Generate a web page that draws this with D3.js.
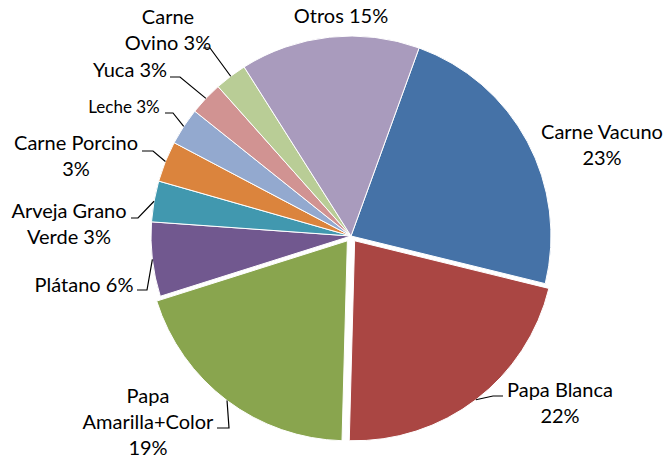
<!DOCTYPE html>
<html>
<head>
<meta charset="utf-8">
<script src="https://cdn.jsdelivr.net/npm/d3@7"></script>
<style>
  body { margin: 0; background: #fff; }
  svg { display: block; }
  text { font-family: Lato, "Open Sans", sans-serif; fill: #000; }
</style>
</head>
<body>
<div id="chart"></div>
<script>
const categories = ["Carne Vacuno", "Papa Blanca", "Papa Amarilla+Color", "Plátano", "Arveja Grano Verde",
    "Carne Porcino", "Leche", "Yuca", "Carne Ovino", "Otros"]
const values = [23.3, 21.6, 19.7, 6.0, 3.3, 3.3, 3.0, 2.7, 2.6, 14.5]
const labelLines = [
    ["Carne Vacuno", "23%"],
    ["Papa Blanca", "22%"],
    ["Papa", "Amarilla+Color", "19%"],
    ["Plátano 6%"],
    ["Arveja Grano", "Verde 3%"],
    ["Carne Porcino", "3%"],
    ["Leche 3%"],
    ["Yuca 3%"],
    ["Carne", "Ovino 3%"],
    ["Otros 15%"],
]
const exploded = ["Papa Blanca", "Papa Amarilla+Color"]
const colors = ["#4572A7", "#AA4643", "#89A54E", "#71588F", "#4198AF",
    "#DB843D", "#93A9CF", "#D19392", "#B9CD96", "#A99BBD"]

// label placement: x center, first baseline, font size, leader start / elbow (null = no leader)
const labelLayout = [
    {x: 602, y: 139, size: 20, lead: null},
    {x: 560, y: 397, size: 20, lead: [503, 396, 493]},
    {x: 148, y: 403, size: 20, lead: [217, 428, 229]},
    {x: 84, y: 292, size: 20, lead: [137, 290, 147]},
    {x: 69, y: 218, size: 20, lead: [131, 218, 138]},
    {x: 76, y: 150, size: 20, lead: [142, 151, 153]},
    {x: 124, y: 113, size: 17, lead: [165, 113, 173]},
    {x: 130, y: 77, size: 20, lead: [170, 77, 180]},
    {x: 168, y: 24, size: 20, lead: [203, 48, 210]},
    {x: 341, y: 23, size: 20, lead: null},
]

const dimensions = {width: 665, height: 461, cx: 351, cy: 236, radius: 200, explode: 6}

const wrapper = d3.select("#chart")
    .append("svg")
    .attr("width", dimensions.width)
    .attr("height", dimensions.height)

const startAngle = 19.9 * Math.PI / 180
const pie = d3.pie()
    .sort(null)
    .value(d => d)
    .startAngle(startAngle)
    .endAngle(startAngle + 2 * Math.PI)
const arcs = pie(values)

const arc = d3.arc()
    .innerRadius(0)
    .outerRadius(dimensions.radius)

const offsetOf = (d, i) => {
    if (!exploded.includes(categories[i])) return [0, 0]
    const mid = (d.startAngle + d.endAngle) / 2
    return [Math.sin(mid) * dimensions.explode, -Math.cos(mid) * dimensions.explode]
}

const bounds = wrapper.append("g")
    .attr("transform", "translate(" + dimensions.cx + "," + dimensions.cy + ")")

bounds.selectAll("path")
    .data(arcs)
    .join("path")
    .attr("d", arc)
    .attr("transform", (d, i) => "translate(" + offsetOf(d, i).join(",") + ")")
    .attr("fill", (d, i) => colors[i])
    .attr("stroke", "#fff")
    .attr("stroke-width", 1)

// leader lines
arcs.forEach((d, i) => {
    const lay = labelLayout[i]
    if (!lay.lead) return
    const mid = (d.startAngle + d.endAngle) / 2
    const off = offsetOf(d, i)
    const px = dimensions.cx + off[0] + Math.sin(mid) * dimensions.radius
    const py = dimensions.cy + off[1] - Math.cos(mid) * dimensions.radius
    wrapper.append("polyline")
        .attr("points", [[lay.lead[0], lay.lead[1]], [lay.lead[2], lay.lead[1]], [px, py]].map(p => p.join(",")).join(" "))
        .attr("fill", "none")
        .attr("stroke", "#000")
        .attr("stroke-width", 1.2)
})

// labels
labelLines.forEach((lines, i) => {
    const lay = labelLayout[i]
    const t = wrapper.append("text")
        .attr("text-anchor", "middle")
        .attr("font-size", lay.size)
    lines.forEach((line, j) => {
        t.append("tspan")
            .attr("x", lay.x)
            .attr("y", lay.y + j * 26)
            .text(line)
    })
})
</script>
</body>
</html>
